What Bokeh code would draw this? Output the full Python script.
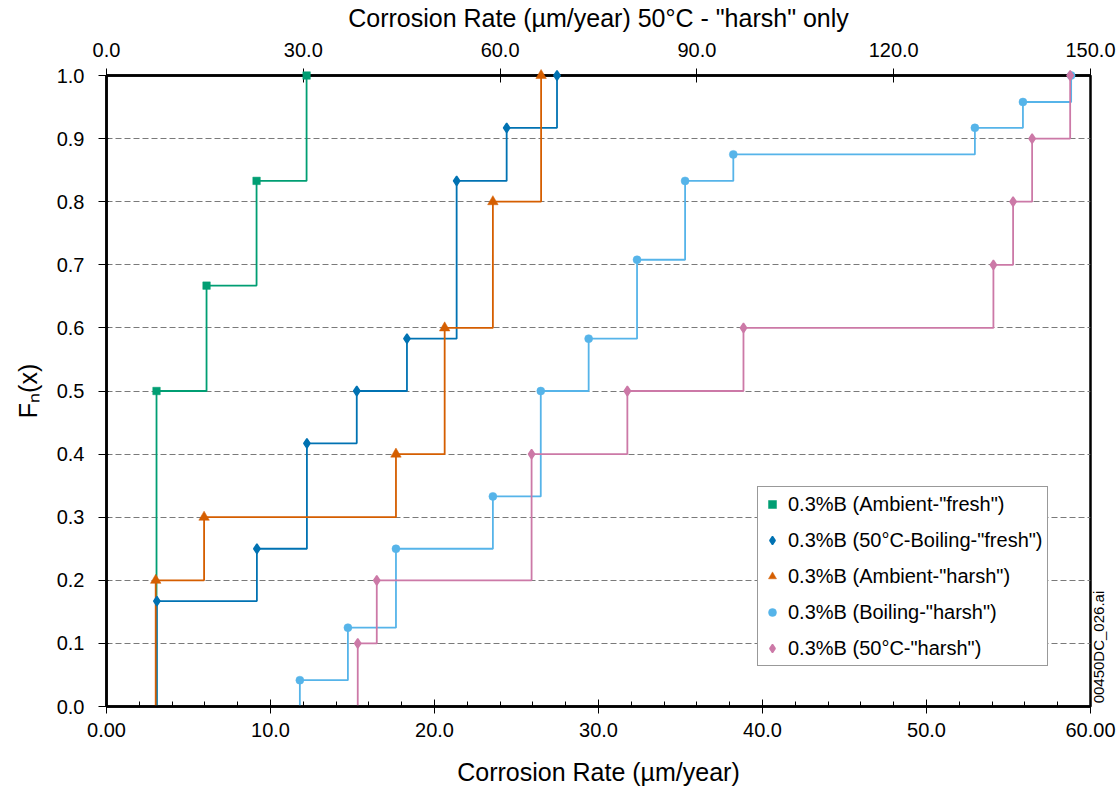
import numpy as np
from bokeh.plotting import figure
from bokeh.models import (Range1d, LinearAxis, FixedTicker, Legend, LegendItem,
                          NumeralTickFormatter)
from bokeh.embed import file_html
from bokeh.resources import INLINE

# ---------------- data ----------------
# bottom axis (0-60 um/year)
amb_fresh_x = [3.05, 6.10, 9.15, 12.20]
amb_fresh_y = [0.500, 0.667, 0.833, 1.000]

boil50_fresh_x = [3.07, 9.17, 12.22, 15.26, 18.32, 21.35, 24.40, 27.47]
boil50_fresh_y = [0.167, 0.250, 0.417, 0.500, 0.583, 0.833, 0.917, 1.000]

amb_harsh_x = [3.00, 5.95, 17.65, 20.62, 23.56, 26.50]
amb_harsh_y = [0.2, 0.3, 0.4, 0.6, 0.8, 1.0]

boil_harsh_x = [11.79, 14.72, 17.65, 23.56, 26.48, 29.40, 32.35, 35.28, 38.22,
                52.95, 55.88, 58.82]
boil_harsh_y = [0.0417, 0.125, 0.250, 0.333, 0.500, 0.583, 0.708, 0.833, 0.875,
                0.917, 0.958, 1.000]

# top axis (0-150 um/year) : 50C "harsh" only
harsh50_x = [38.3, 41.2, 64.8, 79.4, 97.1, 135.2, 138.2, 141.1, 146.9]
harsh50_y = [0.1, 0.2, 0.4, 0.5, 0.6, 0.7, 0.8, 0.9, 1.0]

series_labels = ['0.3%B (Ambient-"fresh")',
                 '0.3%B (50°C-Boiling-"fresh")',
                 '0.3%B (Ambient-"harsh")',
                 '0.3%B (Boiling-"harsh")',
                 '0.3%B (50°C-"harsh")']

bottom_ticks = [0, 10, 20, 30, 40, 50, 60]
bottom_tick_labels = ["0.00", "10.0", "20.0", "30.0", "40.0", "50.0", "60.00"]
bottom_minor = list(range(0, 61, 2))
top_ticks = [0, 30, 60, 90, 120, 150]
left_ticks = [round(0.1 * i, 1) for i in range(11)]

side_note = "00450DC_026.ai"
side_note_pos = 0.005   # y position (data units) where the note starts

FONT = "Liberation Sans"

# ---------------- figure ----------------
p = figure(width=1118, height=791, output_backend="svg", toolbar_location=None,
           x_range=Range1d(0, 60), y_range=Range1d(0, 1.0),
           min_border_left=106, min_border_right=28,
           min_border_top=74, min_border_bottom=85,
           background_fill_color="white", border_fill_color="white")
p.title.visible = False
p.outline_line_color = "black"
p.outline_line_width = 2.5

p.extra_x_ranges = {"top": Range1d(0, 150)}

# bottom axis
xa = p.xaxis[0]
xa.ticker = FixedTicker(ticks=bottom_ticks, minor_ticks=bottom_minor)
xa.major_label_overrides = {t: l for t, l in zip(bottom_ticks, bottom_tick_labels)}
xa.axis_label = "Corrosion Rate (µm/year)"

# left axis
ya = p.yaxis[0]
ya.ticker = FixedTicker(ticks=left_ticks)
ya.formatter = NumeralTickFormatter(format="0.0")
ya.axis_label = "Fₙ(x)"
ya.major_tick_out = 8
ya.major_tick_in = 2
ya.minor_tick_out = 0
ya.minor_tick_in = 0
ya.major_label_standoff = 14
ya.axis_label_standoff = 12

# top axis
ta = LinearAxis(x_range_name="top", ticker=FixedTicker(ticks=top_ticks),
                formatter=NumeralTickFormatter(format="0.0"),
                axis_label='Corrosion Rate (µm/year) 50°C - "harsh" only')
p.add_layout(ta, "above")

for ax in (xa, ya, ta):
    ax.axis_line_color = "black"
    ax.axis_line_width = 2.5
    ax.major_tick_line_color = "black"
    ax.minor_tick_line_color = "black"
    ax.major_label_text_font = FONT
    ax.major_label_text_font_size = "20px"
    ax.major_label_text_color = "black"
    ax.axis_label_text_font = FONT
    ax.axis_label_text_font_size = "25px"
    ax.axis_label_text_font_style = "normal"
    ax.axis_label_text_color = "black"

xa.major_tick_in = 7
xa.major_tick_out = 7
xa.minor_tick_in = 5
xa.minor_tick_out = 0
xa.major_label_standoff = 9
xa.axis_label_standoff = 18

ta.major_tick_in = 7
ta.major_tick_out = 7
ta.minor_tick_in = 0
ta.minor_tick_out = 0
ta.major_label_standoff = 12
ta.axis_label_standoff = 8

# right side: file-name note written as a rotated label
ra = LinearAxis(ticker=FixedTicker(ticks=[side_note_pos]),
                major_label_overrides={side_note_pos: side_note},
                major_label_orientation=np.pi / 2,
                major_label_text_font=FONT, major_label_text_font_size="15px",
                major_label_text_color="black", major_label_standoff=8,
                axis_line_color=None, major_tick_line_color=None,
                minor_tick_line_color=None, major_tick_out=0, major_tick_in=0)
p.add_layout(ra, "right")

# grid
p.xgrid.visible = False
p.ygrid.ticker = FixedTicker(ticks=left_ticks)
p.ygrid.grid_line_color = "#7a7a7a"
p.ygrid.grid_line_dash = "6 3"
p.ygrid.grid_line_width = 1

# ---------------- series ----------------
specs = [
    (amb_fresh_x, amb_fresh_y, "#009E73", "square", 7.5, 0.5, "default"),
    (boil50_fresh_x, boil50_fresh_y, "#0072B2", "diamond", 9.5, 1.5, "default"),
    (amb_harsh_x, amb_harsh_y, "#D55E00", "triangle", 10.5, 0.5, "default"),
    (boil_harsh_x, boil_harsh_y, "#56B4E9", "circle", 8, 0.5, "default"),
    (harsh50_x, harsh50_y, "#CC79A7", "diamond", 9.5, 1.5, "top"),
]

items = []
for (xs, ys, col, mk, sz, lw, rng), lab in zip(specs, series_labels):
    sx = [xs[0]] + list(xs)
    sy = [0.0] + list(ys)
    p.step(sx, sy, mode="after", line_color=col, line_width=1.8,
           x_range_name=rng)
    r = p.scatter(xs, ys, marker=mk, size=sz, fill_color=col,
                  line_color=col, line_width=lw, x_range_name=rng,
                  level="overlay")
    items.append(LegendItem(label=lab, renderers=[r]))

legend = Legend(items=items, location=(651, 40), margin=0, padding=4,
                spacing=10, label_height=26, glyph_height=26, glyph_width=20,
                label_standoff=6, label_text_font=FONT,
                label_text_font_size="20px", label_text_color="black",
                border_line_color="#333333", border_line_width=1,
                background_fill_color="white", background_fill_alpha=1.0)
p.add_layout(legend, "center")

open("out.html", "w").write(file_html(p, INLINE))
